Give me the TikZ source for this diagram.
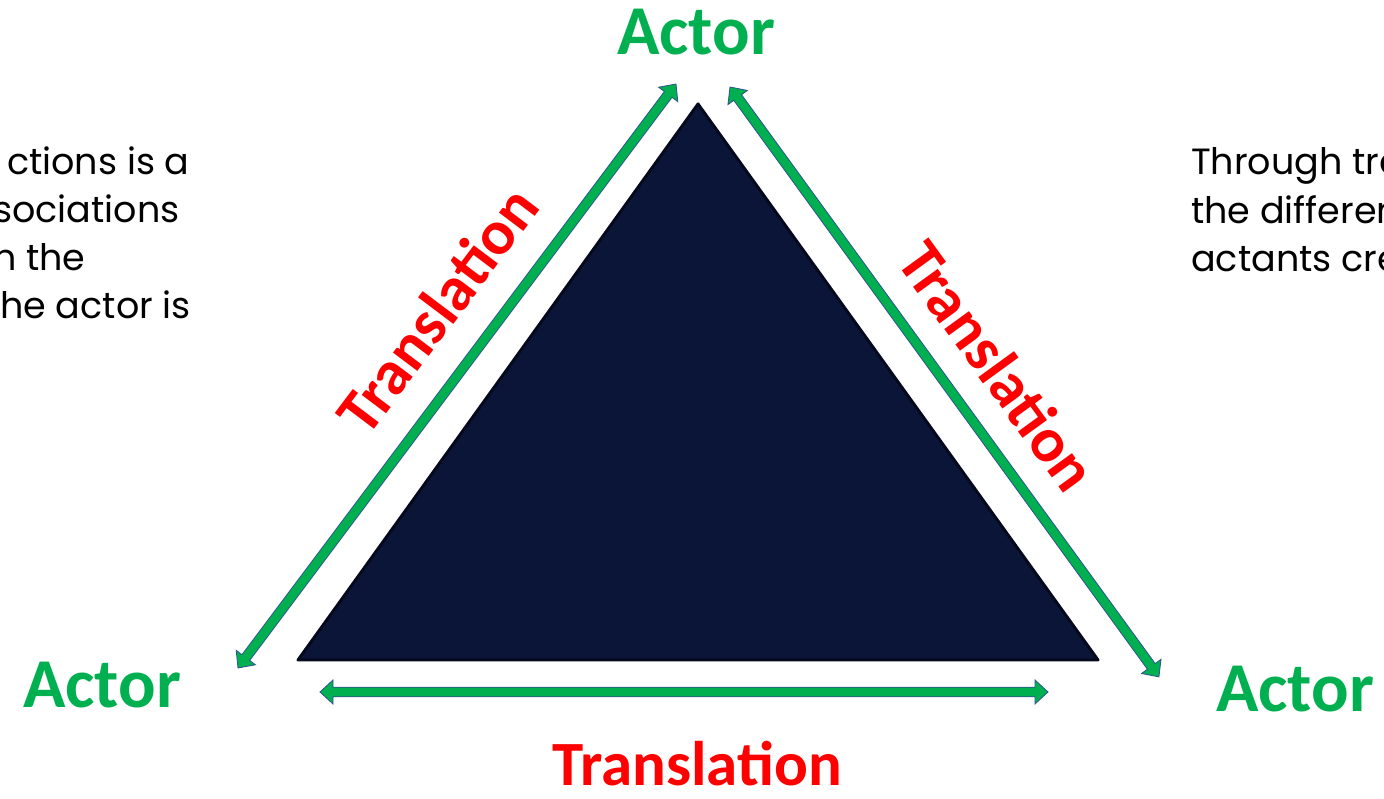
\documentclass[tikz,border=0pt]{standalone}
\usepackage{fontspec}
\setmainfont{Carlito}
\newfontfamily\bodyfont{Poppins}
\usetikzlibrary{calc}

\definecolor{actorgreen}{RGB}{0,176,80}
\definecolor{transred}{RGB}{255,0,0}
\definecolor{arrowedge}{RGB}{47,82,143}
\definecolor{navyfill}{RGB}{11,21,56}
\definecolor{navyedge}{RGB}{4,9,30}

\tikzset{
  actor/.style={text=actorgreen, font=\fontsize{70}{84}\selectfont\bfseries, inner sep=0pt},
  trans/.style={text=transred, font=\fontsize{63}{76}\selectfont\bfseries, inner sep=0pt},
  bodyline/.style={font=\bodyfont\fontsize{36.5}{48}\selectfont, anchor=base west, inner sep=0pt},
  fatarrow/.style={draw=arrowedge, fill=actorgreen, line width=0.8pt, line join=miter},
}

% block arrow with a head at both ends, from #1 to #2
\newcommand\dblarrow[2]{%
  \draw[fatarrow] let \p1=($(#2)-(#1)$), \n1={atan2(\y1,\x1)}, \n2={veclen(\x1,\y1)} in
    (#1) -- ++(\n1+42.7:17.7pt) -- ++(\n1-90:7.2pt) -- ++(\n1:\n2-26pt)
    -- ++(\n1+90:7.2pt) -- ++(\n1-42.7:17.7pt) -- ++(\n1+222.7:17.7pt)
    -- ++(\n1+90:7.2pt) -- ++(\n1+180:\n2-26pt) -- ++(\n1-90:7.2pt) -- cycle;
}

\begin{document}
\begin{tikzpicture}[x=1pt, y=1pt]
  \useasboundingbox (0,0) rectangle (1384,799);
  \clip (0,0) rectangle (1384,799);
  \fill[white] (0,0) rectangle (1384,799);

  % the triangle
  \coordinate (apex) at (698,695);
  \coordinate (left) at (298,139);
  \coordinate (right) at (1098,139);
  \filldraw[fill=navyfill, draw=navyedge, line width=3pt, line join=round] (apex) -- (left) -- (right) -- cycle;

  % arrow ends
  \coordinate (la) at (238,131);
  \coordinate (lb) at (676,715);
  \coordinate (ra) at (730,712);
  \coordinate (rb) at (1159,122);
  \coordinate (ba) at (320,107);
  \coordinate (bb) at (1048,107);
  \dblarrow{la}{lb}
  \dblarrow{ra}{rb}
  \dblarrow{ba}{bb}

  % actors
  \node[actor, anchor=base] (topactor) at (696,744) {Actor};
  \node[actor, anchor=base] (leftactor) at (102,91) {Actor};
  \node[actor, anchor=base west] (rightactor) at (1216,87) {Actor};

  % translations
  \node[trans, rotate=53] (lefttrans) at (437,489) {Translation};
  \node[trans, rotate=-54] (righttrans) at (998,433) {Translation};
  \node[trans, anchor=base] (bottomtrans) at (697,13) {Translation};

  % side texts
  \node[bodyline] (lt1) at (7,624) {ctions is a};
  \node[bodyline] (lt2) at (-7,576) {sociations};
  \node[bodyline] (lt3) at (-7,528) {n the};
  \node[bodyline] (lt4) at (0,480) {he actor is};
  \node[bodyline] (rt1) at (1191,624) {Through tra};
  \node[bodyline] (rt2) at (1191,575.5) {the differen};
  \node[bodyline] (rt3) at (1191,527) {actants cre};
\end{tikzpicture}
\end{document}
